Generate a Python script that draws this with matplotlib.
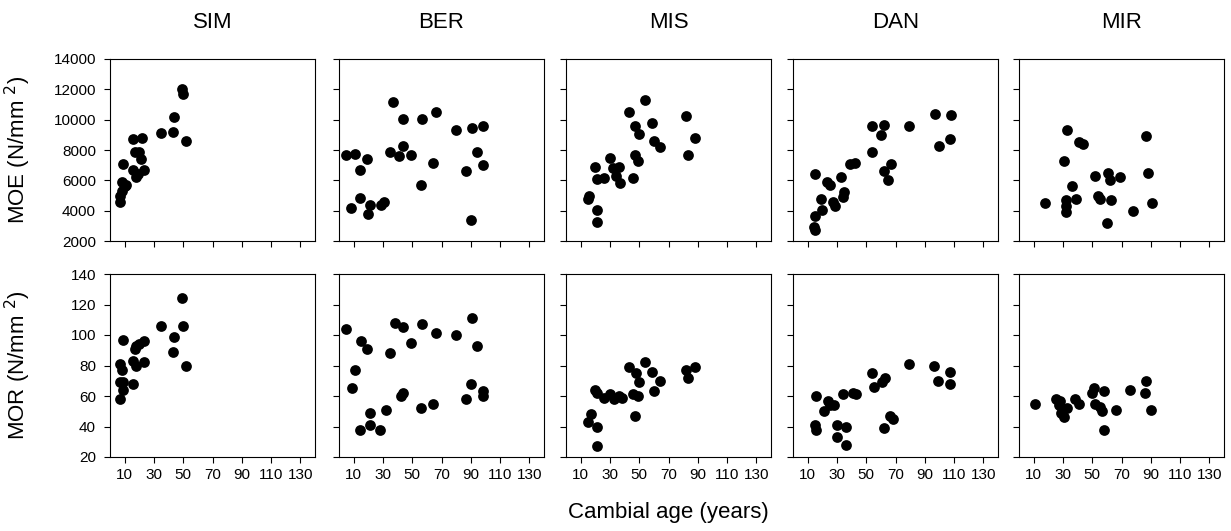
import matplotlib
matplotlib.use("Agg")
import matplotlib.pyplot as plt

plt.rcParams['font.family'] = ['Liberation Sans', 'DejaVu Sans']

sites = ["SIM", "BER", "MIS", "DAN", "MIR"]
age_ticks = [10, 30, 50, 70, 90, 110, 130]
moe_ticks = [2000, 4000, 6000, 8000, 10000, 12000, 14000]
mor_ticks = [20, 40, 60, 80, 100, 120, 140]

# MOE (N/mm2) against cambial age (years)
sim_age_moe = [7, 7, 8, 8, 9, 11, 10, 16, 16, 17, 18, 19, 20, 21, 22, 23, 35, 43, 44, 49, 50, 52]
sim_moe = [4600, 5000, 5300, 5900, 7100, 5700, 5600, 8700, 6700, 7900, 6200, 6400, 7900, 7400,
           8800, 6700, 9100, 9200, 10200, 12000, 11700, 8600]
ber_age_moe = [5, 11, 19, 14, 8, 14, 21, 20, 29, 31, 37, 35, 41, 44, 44, 49, 57, 66, 64, 56,
               80, 91, 98, 94, 98, 87, 90]
ber_moe = [7650, 7750, 7400, 6700, 4200, 4850, 4350, 3750, 4400, 4600, 11150, 7900, 7600, 10050,
           8250, 7700, 10050, 10500, 7150, 5700, 9350, 9450, 9600, 7900, 7000, 6600, 3400]
mis_age_moe = [16, 15, 21, 21, 20, 21, 26, 30, 32, 36, 34, 37, 46, 43, 47, 50, 47, 49, 54, 59,
               60, 64, 82, 83, 88]
mis_moe = [5000, 4750, 4050, 3250, 6900, 6100, 6150, 7500, 6800, 6900, 6300, 5850, 6150, 10500,
           9550, 9050, 7700, 7300, 11300, 9800, 8600, 8200, 10250, 7700, 8800]
dan_age_moe = [15, 15, 14, 15, 19, 20, 23, 25, 27, 29, 33, 35, 34, 39, 42, 54, 62, 60, 54, 67,
               62, 65, 79, 97, 108, 100, 107]
dan_moe = [6450, 3650, 2900, 2700, 4800, 4050, 5900, 5700, 4550, 4300, 6250, 5200, 4900, 7050,
           7150, 9600, 9650, 9000, 7850, 7100, 6600, 6050, 9600, 10400, 10300, 8250, 8750]
mir_age_moe = [18, 33, 31, 36, 32, 32, 32, 39, 41, 44, 52, 54, 55, 61, 62, 69, 63, 60, 78, 87,
               88, 91]
mir_moe = [4500, 9300, 7300, 5600, 4700, 4300, 3900, 4800, 8500, 8400, 6300, 5000, 4800, 6500,
           6000, 6200, 4700, 3200, 4000, 8900, 6500, 4500]

# MOR (N/mm2) against cambial age (years)
sim_age_mor = [7, 9, 7, 9, 8, 7, 9, 16, 16, 18, 17, 18, 20, 23, 23, 35, 43, 44, 49, 50, 52]
sim_mor = [58, 64, 69, 69, 77, 81, 97, 68, 83, 80, 91, 93, 94, 96, 82, 106, 89, 99, 124, 106, 80]
ber_age_mor = [5, 15, 19, 11, 9, 21, 21, 14, 28, 32, 38, 44, 35, 42, 44, 49, 57, 66, 80, 91, 94,
               56, 64, 87, 90, 98, 98]
ber_mor = [104, 96, 91, 77, 65, 49, 41, 38, 38, 51, 108, 105, 88, 60, 62, 95, 107, 101, 100, 111,
           93, 52, 55, 58, 68, 63, 60]
mis_age_mor = [17, 15, 21, 21, 20, 21, 26, 30, 33, 36, 38, 43, 48, 50, 46, 49, 47, 54, 59, 64,
               60, 82, 83, 88]
mis_mor = [48, 43, 40, 27, 64, 62, 59, 61, 58, 60, 59, 79, 75, 69, 61, 60, 47, 82, 76, 70, 63,
           77, 72, 79]
dan_age_mor = [16, 15, 16, 21, 24, 25, 28, 30, 30, 36, 36, 34, 41, 43, 54, 55, 61, 63, 66, 68,
               62, 79, 96, 99, 107, 107]
dan_mor = [60, 41, 38, 50, 57, 54, 54, 33, 41, 40, 28, 61, 62, 61, 75, 66, 69, 72, 47, 45, 39,
           81, 80, 70, 68, 76]
mir_age_mor = [11, 25, 28, 27, 29, 31, 33, 38, 41, 50, 51, 52, 55, 58, 57, 58, 66, 76, 86, 87, 90]
mir_mor = [55, 58, 57, 54, 49, 46, 52, 58, 55, 62, 65, 55, 53, 63, 50, 38, 51, 64, 62, 70, 51]

moe_data = [(sim_age_moe, sim_moe), (ber_age_moe, ber_moe), (mis_age_moe, mis_moe),
            (dan_age_moe, dan_moe), (mir_age_moe, mir_moe)]
mor_data = [(sim_age_mor, sim_mor), (ber_age_mor, ber_mor), (mis_age_mor, mis_mor),
            (dan_age_mor, dan_mor), (mir_age_mor, mir_mor)]

W, H = 1231, 531
fig = plt.figure(figsize=(W / 100, H / 100), dpi=100)

lefts = [110, 339, 566, 793, 1019]
pw = 205


def make_ax(left, top, bottom):
    return fig.add_axes([left / W, 1 - bottom / H, pw / W, (bottom - top) / H])


def style(ax, yticks, ylim, show_y, show_x):
    ax.set_xlim(0, 140)
    ax.set_ylim(*ylim)
    ax.set_xticks(age_ticks)
    ax.set_yticks(yticks)
    ax.tick_params(direction='out', length=4, width=0.8, labelsize=11, pad=4)
    ax.tick_params(axis='y', pad=6)
    if not show_y:
        ax.set_yticklabels([])
    if not show_x:
        ax.set_xticklabels([])
    for s in ax.spines.values():
        s.set_linewidth(0.8)


for i, site in enumerate(sites):
    ax = make_ax(lefts[i], 59, 241)
    x, y = moe_data[i]
    ax.scatter(x, y, s=60, c='black', linewidths=0, zorder=3)
    style(ax, moe_ticks, (2000, 14000), i == 0, False)
    fig.text((lefts[i] + pw / 2) / W, 1 - 23 / H, site, ha='center', va='center', fontsize=16)
    if i == 0:
        ax.set_ylabel("MOE (N/mm $^{2}$)", fontsize=16)
        ax.yaxis.set_label_coords(-0.375, 0.5)

    ax = make_ax(lefts[i], 274, 457)
    x, y = mor_data[i]
    ax.scatter(x, y, s=60, c='black', linewidths=0, zorder=3)
    style(ax, mor_ticks, (20, 140), i == 0, True)
    if i == 0:
        ax.set_ylabel("MOR (N/mm $^{2}$)", fontsize=16)
        ax.yaxis.set_label_coords(-0.375, 0.5)
    if i == 2:
        ax.set_xlabel("Cambial age (years)", fontsize=16, labelpad=14)

fig.savefig("out.png", dpi=100)
